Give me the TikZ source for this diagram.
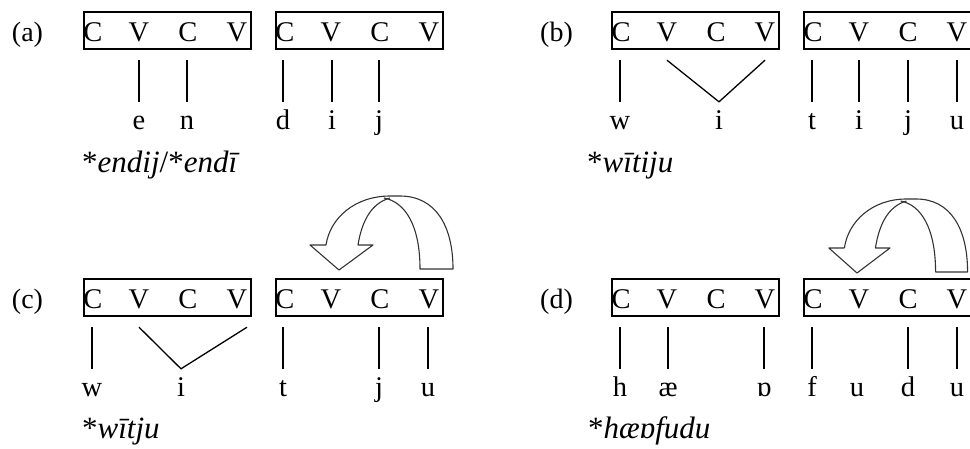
\documentclass[tikz,border=0pt]{standalone}
\usepackage{fontspec}
\setmainfont{Liberation Serif}
\begin{document}
\begin{tikzpicture}[x=1pt,y=-1pt,
  cvframe/.style={draw=black, line width=2.2pt, minimum width=167pt, minimum height=37pt, inner sep=0pt, anchor=north west},
  skel/.style={anchor=base, inner sep=0pt, text depth=19pt, font=\fontsize{28.5}{31}\selectfont},
  seg/.style={anchor=base, inner sep=0pt, text height=27pt, font=\fontsize{28.5}{31}\selectfont},
  tag/.style={anchor=base, inner sep=0pt, font=\fontsize{28}{31}\selectfont},
  form/.style={anchor=base west, inner sep=0pt, font=\fontsize{31}{34}\selectfont},
  link/.style={draw=black, line width=1.3pt},
  loop/.style={draw=black!80, line width=1.1pt, line join=round},
]
\useasboundingbox (0,0) rectangle (970,448);

% one CVCV domain: frame plus its four skeletal slots
\newcommand\cvdomain[3]{%
  \node[cvframe] (#1) at (#2,#3) {};
  \node[skel] (#1c1) at ({#2+10},{#3+30}) {C};
  \node[skel] (#1v1) at ({#2+56},{#3+30}) {V};
  \node[skel] (#1c2) at ({#2+105},{#3+30}) {C};
  \node[skel] (#1v2) at ({#2+154},{#3+30}) {V};
}

% curved block arrow, tip at the origin of the scope
\newcommand\backarrow[3]{%
  \begin{scope}[shift={(#1,#2)}, xscale=#3]
    \draw[loop] (-13,-25) -- (-29,-25) -- (0,0) -- (34,-25) -- (19,-25)
      .. controls (23,-50) and (33,-67) .. (51,-72);
    \draw[loop] (-13,-25) .. controls (-9,-52) and (16,-74) .. (51,-74)
      -- (61,-74) .. controls (96,-74) and (114,-45) .. (114,-1) -- (81,-1)
      .. controls (81,-45) and (66,-68) .. (45,-72);
  \end{scope}
}

% ---------------- (a)
\node[tag] (la) at (27.5,41) {(a)};
\cvdomain{a1}{83}{11}
\cvdomain{a2}{275}{11}
\node[seg] (ae) at (139,129) {e};
\node[seg] (an) at (187,129) {n};
\node[seg] (ad) at (283,129) {d};
\node[seg] (ai) at (332,129) {i};
\node[seg] (aj) at (379,129) {j};
\foreach \s in {ae,an,ad,ai,aj}
  \draw[link] (\s.north) -- (\s.north |- a1v1.south);
\node[form] (fa) at (82,172) {*\textit{endij}/*\textit{endī}};

% ---------------- (b)
\node[tag] (lb) at (556.5,41) {(b)};
\cvdomain{b1}{611}{11}
\cvdomain{b2}{803}{11}
\node[seg] (bw) at (620,129) {w};
\node[seg] (bi) at (719,129) {i};
\node[seg] (bt) at (812,129) {t};
\node[seg] (bi2) at (859,129) {i};
\node[seg] (bj) at (908,129) {j};
\node[seg] (bu) at (957,129) {u};
\foreach \s in {bw,bt,bi2,bj,bu}
  \draw[link] (\s.north) -- (\s.north |- b1v1.south);
\draw[link] (b1v1.south) -- (bi.north) -- (b1v2.south);
\node[form] (fb) at (587,172) {*\textit{wītiju}};

% ---------------- (c)
\node[tag] (lc) at (27.5,308) {(c)};
\cvdomain{c1}{83}{278}
\cvdomain{c2}{275}{278}
\node[seg] (cw) at (92,396) {w};
\node[seg] (ci) at (181,396) {i};
\node[seg] (ct) at (283,396) {t};
\node[seg] (cj) at (379,396) {j};
\node[seg] (cu) at (428,396) {u};
\foreach \s in {cw,ct,cj,cu}
  \draw[link] (\s.north) -- (\s.north |- c1v1.south);
\draw[link] (c1v1.south) -- (ci.north) -- ([xshift=10pt]c1v2.south);
\backarrow{339}{270}{1}
\node[form] (fc) at (82,438) {*\textit{wītju}};

% ---------------- (d)
\node[tag] (ld) at (556.5,308) {(d)};
\cvdomain{d1}{611}{278}
\cvdomain{d2}{803}{278}
\node[seg] (dh) at (620,396) {h};
\node[seg] (dae) at (668,396) {æ};
\node[seg] (do) at (764,396) {ɒ};
\node[seg] (df) at (812,396) {f};
\node[seg] (du) at (857,396) {u};
\node[seg] (dd) at (908,396) {d};
\node[seg] (du2) at (957,396) {u};
\foreach \s in {dh,dae,do,df,dd,du2}
  \draw[link] (\s.north) -- (\s.north |- d1v1.south);
\backarrow{857}{273}{0.97}
\node[form] (fd) at (588,438) {*\textit{hæɒfudu}};
\end{tikzpicture}
\end{document}
